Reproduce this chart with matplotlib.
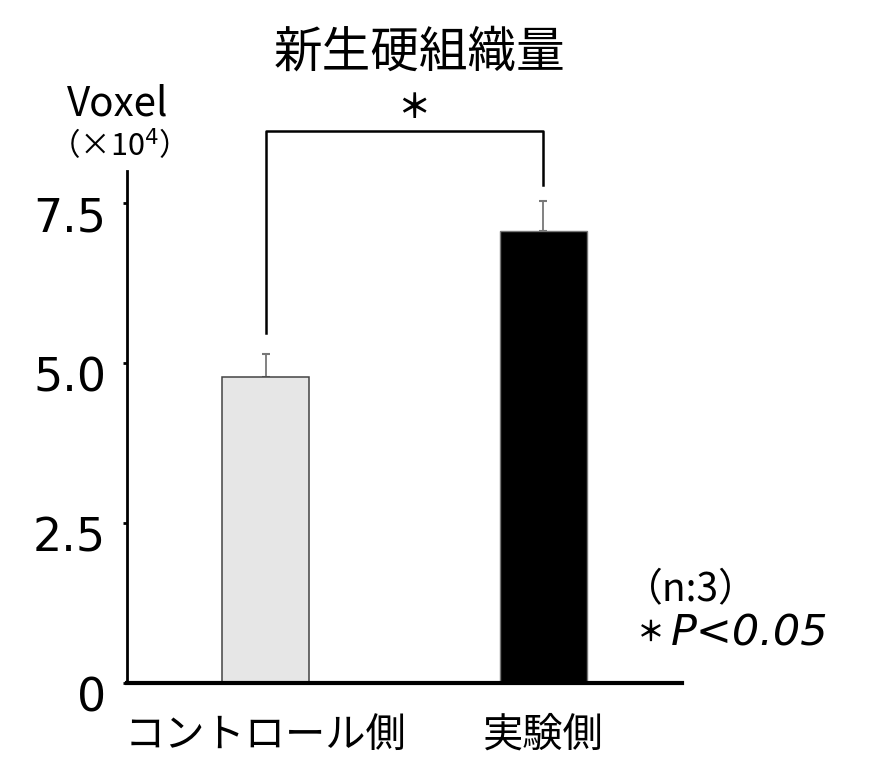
import matplotlib
matplotlib.use('Agg')
import matplotlib.pyplot as plt
import matplotlib.transforms as mtransforms

plt.rcParams['font.family'] = ['Noto Sans CJK JP', 'DejaVu Sans']

# データ
groups = ['コントロール側', '実験側']
means = [4.78, 7.06]
errs = [0.36, 0.47]
yticks = [0, 2.5, 5.0, 7.5]
ytick_labels = ['0', '2.5', '5.0', '7.5']

fig = plt.figure(figsize=(8.78, 7.59), dpi=100)
ax = fig.add_axes([0.1446, 0.1001, 0.6322, 0.6746])

x = [0, 1]
ax.bar(x[0], means[0], width=0.314, color='#e6e6e6', edgecolor='#444444', linewidth=1.1, zorder=2)
ax.bar(x[1], means[1], width=0.314, color='black', edgecolor='#777777', linewidth=1.0, zorder=2)
ax.errorbar(x, means, yerr=[[0, 0], errs], fmt='none', ecolor='#777777',
            elinewidth=1.3, capsize=3, capthick=1.5, zorder=1)

ax.set_xlim(-0.5, 1.5)
ax.set_ylim(0, 8.0)

ax.spines['top'].set_visible(False)
ax.spines['right'].set_visible(False)
ax.spines['left'].set_linewidth(2.0)
ax.spines['bottom'].set_linewidth(3.0)

ax.set_yticks(yticks)
ax.set_yticklabels(ytick_labels, fontsize=33, family=['DejaVu Sans'])
ax.tick_params(axis='y', length=3, width=2, pad=12)
offset = mtransforms.ScaledTranslation(0, 5 / 72, fig.dpi_scale_trans)
for lab in ax.get_yticklabels():
    lab.set_verticalalignment('top')
    lab.set_transform(lab.get_transform() + offset)

ax.set_xticks(x)
ax.set_xticklabels(groups, fontsize=29)
ax.tick_params(axis='x', length=0, pad=23)

# 有意差ブラケット
ax.plot([0, 0, 1, 1], [5.47, 8.63, 8.63, 7.78], color='black', linewidth=1.8, clip_on=False)
ax.text(0.534, 8.97, '＊', fontsize=24, fontweight='bold', ha='center', va='center')

fig.text(0.478, 0.931, '新生硬組織量', fontsize=35, ha='center', va='center')
fig.text(0.1344, 0.863, 'Voxel', fontsize=29, ha='center', va='center')
fig.text(0.125, 0.8076, '（×10$^{4}$）', fontsize=22, ha='center', va='center')
fig.text(0.711, 0.2227, '（n:3）', fontsize=28, ha='left', va='center')
fig.text(0.725, 0.166, '＊', fontsize=20, fontweight='bold', ha='left', va='center')
fig.text(0.764, 0.166, 'P<0.05', fontsize=31, ha='left', va='center',
         style='italic', family=['DejaVu Sans'])

fig.savefig('out.png', dpi=100)
